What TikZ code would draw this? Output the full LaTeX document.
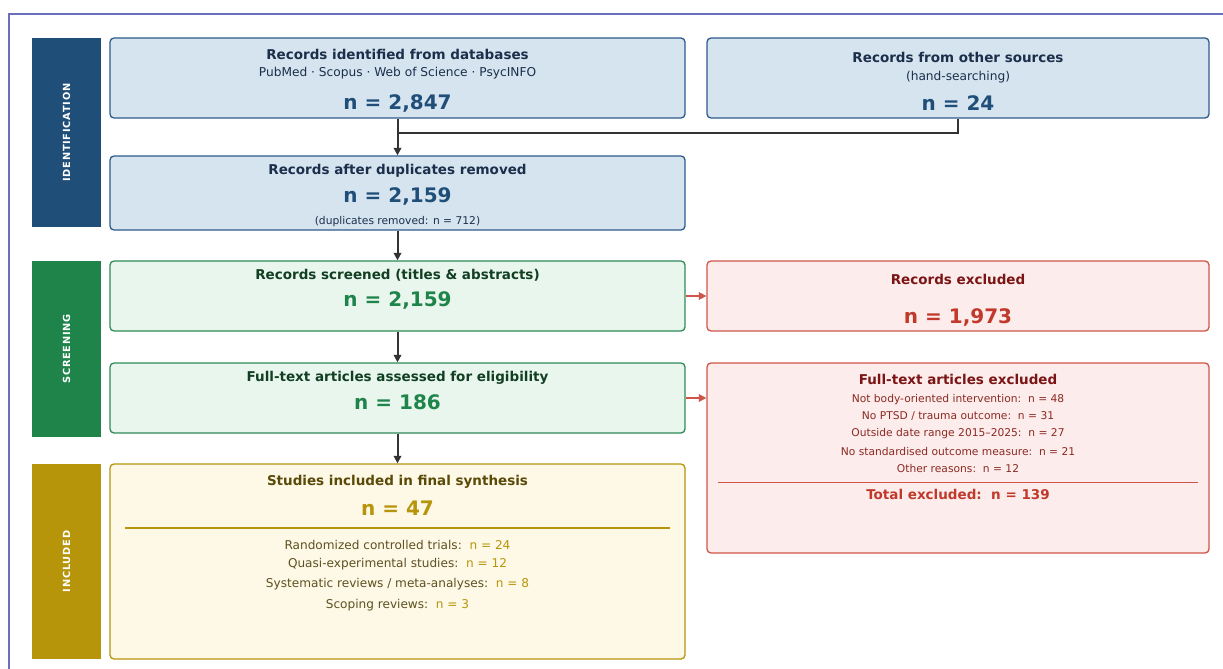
\documentclass[tikz,border=0pt]{standalone}
\usepackage{fontspec}
\setmainfont{DejaVu Sans}
\newfontfamily\stagefont[LetterSpace=8]{DejaVu Sans}
\usetikzlibrary{arrows.meta}
\definecolor{idbar}{HTML}{1F4E79}
\definecolor{idfill}{HTML}{D6E4F0}
\definecolor{iddraw}{HTML}{2E5C8A}
\definecolor{idtitle}{HTML}{1B2F4B}
\definecolor{idnum}{HTML}{1F4E79}
\definecolor{scbar}{HTML}{1E8449}
\definecolor{scfill}{HTML}{E8F6EE}
\definecolor{scdraw}{HTML}{2E8B57}
\definecolor{sctitle}{HTML}{123F22}
\definecolor{scnum}{HTML}{1E8449}
\definecolor{inbar}{HTML}{B7950B}
\definecolor{infill}{HTML}{FEF8E6}
\definecolor{indraw}{HTML}{B7950B}
\definecolor{intitle}{HTML}{5A4A08}
\definecolor{innum}{HTML}{B7950B}
\definecolor{intext}{HTML}{5E5020}
\definecolor{exfill}{HTML}{FDECEC}
\definecolor{exdraw}{HTML}{CF5548}
\definecolor{extitle}{HTML}{7B1515}
\definecolor{exnum}{HTML}{C0392B}
\definecolor{extext}{HTML}{8A2A22}
\definecolor{framec}{HTML}{6A6EC0}
\definecolor{arrc}{HTML}{333333}
\tikzset{
  box/.style={rectangle, rounded corners=4pt, line width=1.3pt, inner sep=0pt},
  idbox/.style={box, fill=idfill, draw=iddraw},
  scbox/.style={box, fill=scfill, draw=scdraw},
  inbox/.style={box, fill=infill, draw=indraw},
  exbox/.style={box, fill=exfill, draw=exdraw},
  stagebar/.style={rectangle, inner sep=0pt, minimum width=69pt},
  stagetxt/.style={rotate=90, text=white, font=\stagefont\fontsize{9.8}{11}\selectfont\bfseries, inner sep=0pt},
  ttl/.style={font=\fontsize{13.5}{16}\selectfont\bfseries, inner sep=0pt},
  big/.style={font=\fontsize{20}{24}\selectfont\bfseries, inner sep=0pt},
  sub/.style={font=\fontsize{12.2}{14}\selectfont, inner sep=0pt},
  small/.style={font=\fontsize{10.7}{13}\selectfont, inner sep=0pt},
  item/.style={font=\fontsize{12.1}{14}\selectfont, inner sep=0pt},
  conn/.style={draw=arrc, line width=2pt},
  arr/.style={conn, -{Triangle[length=7.5pt,width=7.5pt]}},
  redarr/.style={draw=exdraw, line width=1.6pt, -{Triangle[length=7.5pt,width=7.5pt]}},
  sepline/.style={line width=1.2pt}
}
\begin{document}
\begin{tikzpicture}[x=1pt, y=-1pt]
\useasboundingbox (0,0) rectangle (1223,669);
\begin{scope}
\clip (0,0) rectangle (1223,669);
\draw[framec, line width=1.2pt] (9,14) rectangle (1240,690);
\end{scope}

% stage bars
\node[stagebar, fill=idbar, minimum height=189pt] (s1) at (66.5,132.5) {};
\node[stagebar, fill=scbar, minimum height=176pt] (s2) at (66.5,349) {};
\node[stagebar, fill=inbar, minimum height=195pt] (s3) at (66.5,561.5) {};
\node[stagetxt] (s1t) at (s1.center) {IDENTIFICATION};
\node[stagetxt] (s2t) at (s2.center) {SCREENING};
\node[stagetxt] (s3t) at (s3.center) {INCLUDED};

% boxes
\node[idbox, minimum width=575pt, minimum height=80pt] (b1) at (397.5,78) {};
\node[idbox, minimum width=502pt, minimum height=80pt] (b2) at (958,78) {};
\node[idbox, minimum width=575pt, minimum height=74pt] (b3) at (397.5,193) {};
\node[scbox, minimum width=575pt, minimum height=70pt] (b4) at (397.5,296) {};
\node[exbox, minimum width=502pt, minimum height=70pt] (b5) at (958,296) {};
\node[scbox, minimum width=575pt, minimum height=70pt] (b6) at (397.5,398) {};
\node[exbox, minimum width=502pt, minimum height=190pt] (b7) at (958,458) {};
\node[inbox, minimum width=575pt, minimum height=195pt] (b8) at (397.5,561.5) {};

% box 1
\node[ttl, text=idtitle] (b1t) at (397.5,54) {Records identified from databases};
\node[sub, text=idtitle] (b1s) at (397.5,73) {PubMed · Scopus · Web of Science · PsycINFO};
\node[big, text=idnum] (b1n) at (397.5,103.5) {n = 2,847};
% box 2
\node[ttl, text=idtitle] (b2t) at (958,57) {Records from other sources};
\node[sub, text=idtitle] (b2s) at (958,77) {(hand-searching)};
\node[big, text=idnum] (b2n) at (958,103.5) {n = 24};
% box 3
\node[ttl, text=idtitle] (b3t) at (397.5,170.5) {Records after duplicates removed};
\node[big, text=idnum] (b3n) at (397.5,196.5) {n = 2,159};
\node[small, text=idtitle] (b3s) at (397.5,222) {(duplicates removed: n = 712)};
% box 4
\node[ttl, text=sctitle] (b4t) at (397.5,275.5) {Records screened (titles \& abstracts)};
\node[big, text=scnum] (b4n) at (397.5,300.5) {n = 2,159};
% box 5
\node[ttl, text=extitle] (b5t) at (958,279.5) {Records excluded};
\node[big, text=exnum] (b5n) at (958,317.5) {n = 1,973};
% box 6
\node[ttl, text=sctitle] (b6t) at (397.5,377.5) {Full-text articles assessed for eligibility};
\node[big, text=scnum] (b6n) at (397.5,402.5) {n = 186};
% box 7
\node[ttl, text=extitle] (b7t) at (958,379.5) {Full-text articles excluded};
\node[small, text=extext] (b7a) at (958,399.5) {Not body-oriented intervention:\ \ n = 48};
\node[small, text=extext] (b7b) at (958,416.5) {No PTSD / trauma outcome:\ \ n = 31};
\node[small, text=extext] (b7c) at (958,434) {Outside date range 2015–2025:\ \ n = 27};
\node[small, text=extext] (b7d) at (958,451.5) {No standardised outcome measure:\ \ n = 21};
\node[small, text=extext] (b7e) at (958,468.5) {Other reasons:\ \ n = 12};
\draw[sepline, draw=exdraw, line width=0.8pt] (718,482) -- (1198,482);
\node[ttl, text=exnum] (b7n) at (958,494.5) {Total excluded:\ \ n = 139};
% box 8
\node[ttl, text=intitle] (b8t) at (397.5,481.5) {Studies included in final synthesis};
\node[big, text=innum] (b8n) at (397.5,508.5) {n = 47};
\draw[sepline, draw=indraw] (125,528) -- (670,528);
\node[item, text=intext] (b8a) at (397.5,544.5) {Randomized controlled trials:\ \ \textcolor{innum}{n = 24}};
\node[item, text=intext] (b8b) at (397.5,564.5) {Quasi-experimental studies:\ \ \textcolor{innum}{n = 12}};
\node[item, text=intext] (b8c) at (397.5,584.5) {Systematic reviews / meta-analyses:\ \ \textcolor{innum}{n = 8}};
\node[item, text=intext] (b8d) at (397.5,605) {Scoping reviews:\ \ \textcolor{innum}{n = 3}};

% connectors
\coordinate (j) at (b1.south |- 0,133);
\draw[conn] (b2.south) |- (j);
\draw[arr] (b1.south) -- (b3.north);
\draw[arr] (b3.south) -- (b4.north);
\draw[arr] (b4.south) -- (b6.north);
\draw[arr] (b6.south) -- (b8.north);
\draw[redarr] (b4.east) -- (b5.west);
\draw[redarr] (b6.east) -- (b7.west |- b6.east);
\end{tikzpicture}
\end{document}
